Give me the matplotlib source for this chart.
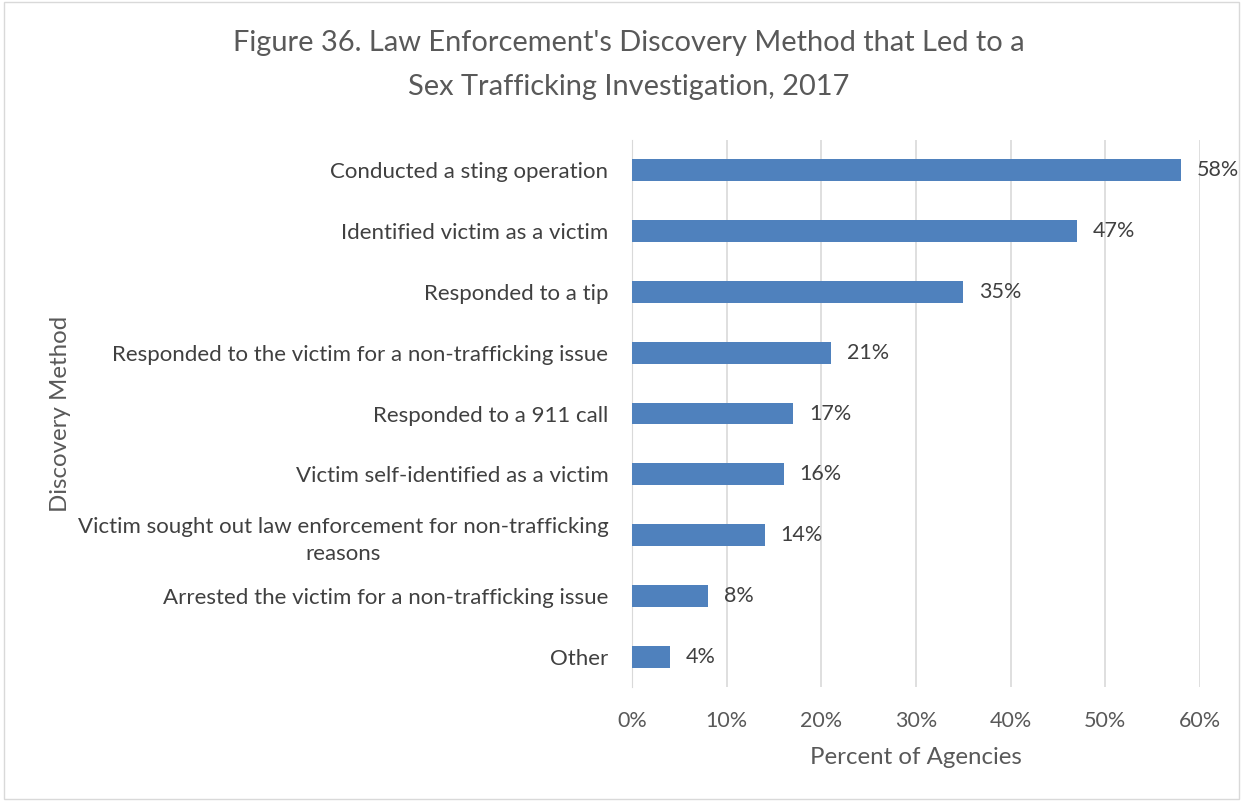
import matplotlib.pyplot as plt
from matplotlib.patches import Rectangle
from matplotlib.ticker import FuncFormatter

plt.rcParams['font.family'] = ['Lato', 'DejaVu Sans']

# Data
methods = [
    "Conducted a sting operation",
    "Identified victim as a victim",
    "Responded to a tip",
    "Responded to the victim for a non-trafficking issue",
    "Responded to a 911 call",
    "Victim self-identified as a victim",
    "Victim sought out law enforcement for non-trafficking\nreasons",
    "Arrested the victim for a non-trafficking issue",
    "Other",
]
percents = [58, 47, 35, 21, 17, 16, 14, 8, 4]
x_ticks = [0, 10, 20, 30, 40, 50, 60]

fig = plt.figure(figsize=(12.43, 8.01), dpi=100)
ax = fig.add_axes([0.5085, 0.1423, 0.4569, 0.6829])

pos = list(range(len(methods)))
ax.barh(pos, percents, height=0.36, color='#4F81BD', zorder=3)
ax.set_ylim(len(methods) - 0.5, -0.5)
ax.set_xlim(0, 60)
ax.set_yticks(pos)
ax.set_yticklabels(methods, fontsize=16, color='#404040')
ax.set_xticks(x_ticks)
ax.xaxis.set_major_formatter(FuncFormatter(lambda v, p: f"{v:.0f}%"))
ax.tick_params(axis='x', labelsize=15.5, colors='#595959', length=0, pad=17)
ax.tick_params(axis='y', length=0, pad=17)
for lbl in ax.get_yticklabels():
    lbl.set_horizontalalignment('right')
    lbl.set_multialignment('center')
    lbl.set_linespacing(1.45)

ax.grid(axis='x', color='#D9D9D9', linewidth=1.2, zorder=0)
for s in ['top', 'right', 'bottom']:
    ax.spines[s].set_visible(False)
ax.spines['left'].set_color('#D9D9D9')

for y, v in zip(pos, percents):
    ax.text(v + 1.7, y, f"{v}%", va='center', ha='left', fontsize=15.5, color='#404040')

ax.set_xlabel("Percent of Agencies", fontsize=17.3, color='#595959', labelpad=12)
fig.text(0.049, 0.4835, "Discovery Method", rotation=90, fontsize=17.3,
         color='#595959', ha='center', va='center')

fig.suptitle("Figure 36. Law Enforcement's Discovery Method that Led to a\nSex Trafficking Investigation, 2017",
             fontsize=20.9, color='#595959', y=0.962, x=0.506, va='top', linespacing=1.85)

fig.patches.append(Rectangle((0.003, 0.003), 0.994, 0.994, transform=fig.transFigure,
                             fill=False, edgecolor='#D9D9D9', linewidth=1))

fig.savefig("out.png", dpi=100)
